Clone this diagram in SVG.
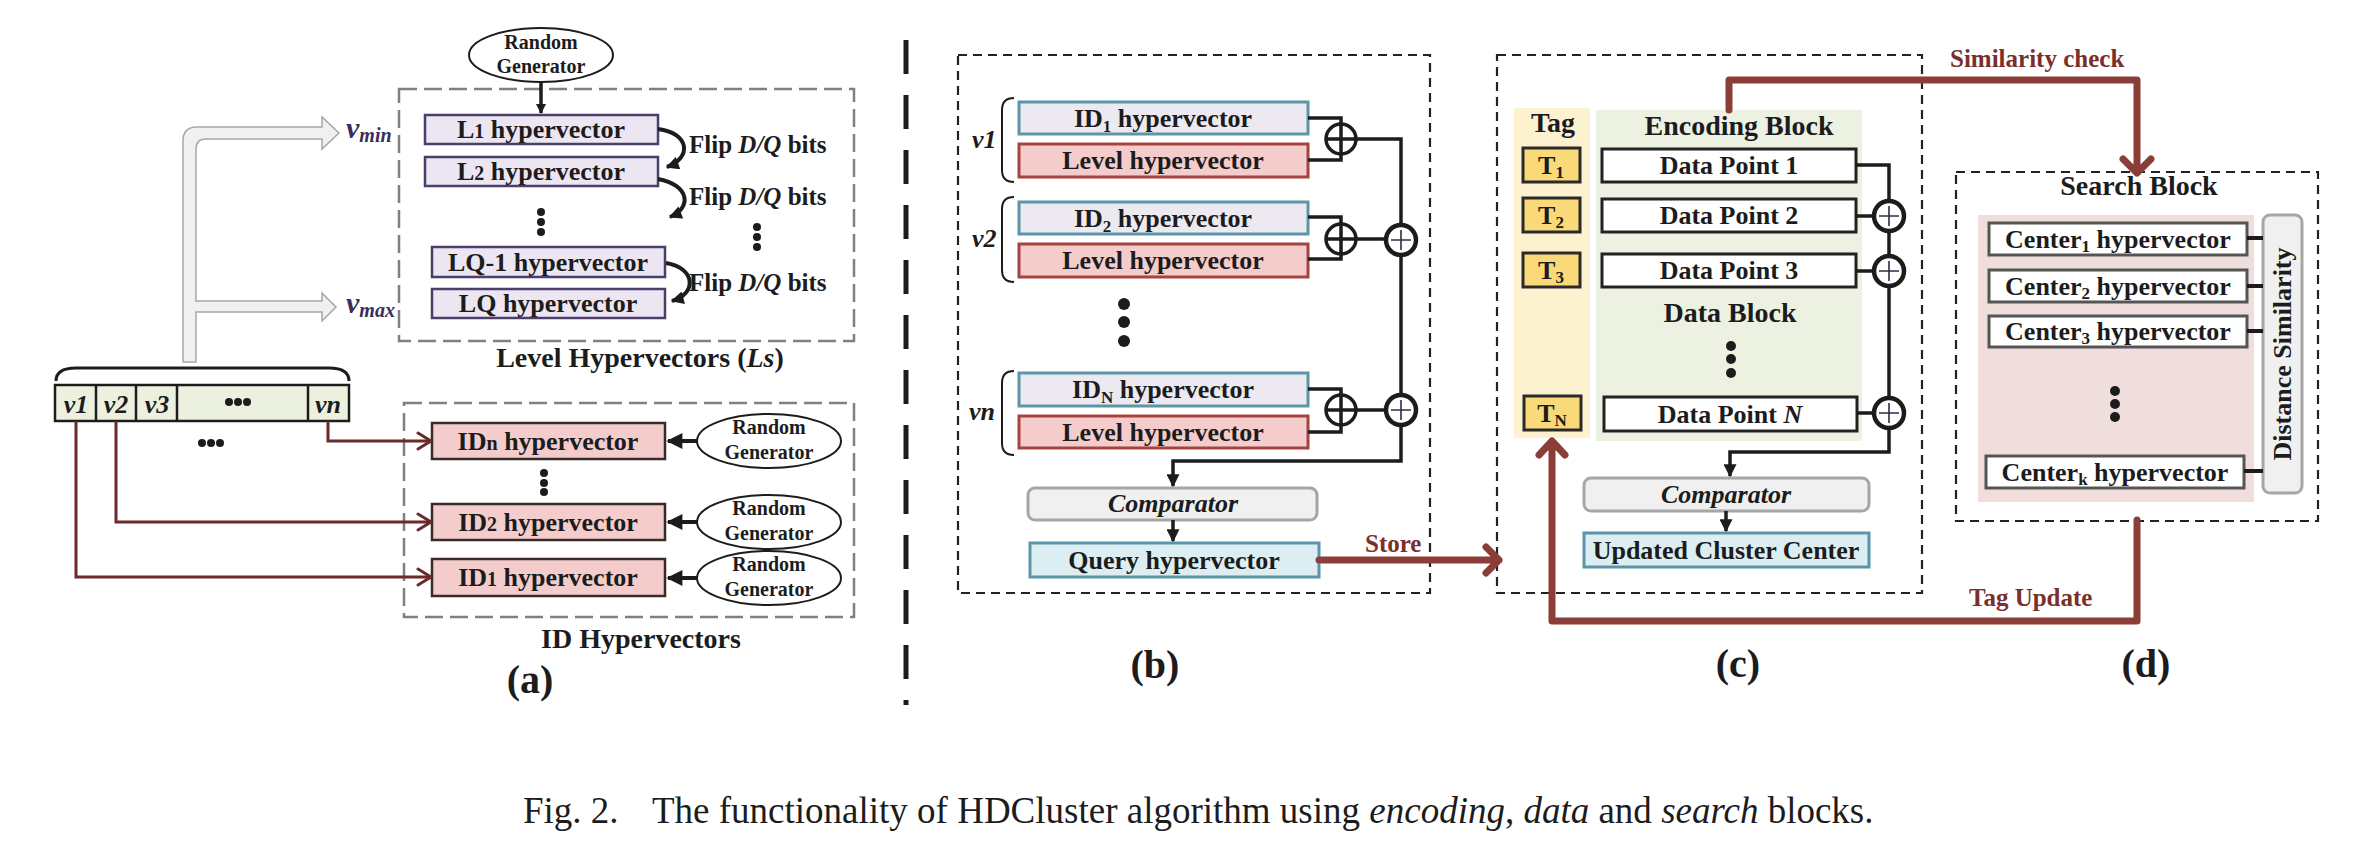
<svg xmlns="http://www.w3.org/2000/svg" width="2370" height="858" viewBox="0 0 2370 858">
<defs>
<style>
.t{font-family:"Liberation Serif","Times New Roman",serif;font-weight:bold;fill:#1c1c1c}
.m{text-anchor:middle}
.s25{font-size:25px}.s26{font-size:26px}.s28{font-size:28px}.s20{font-size:20px}.s40{font-size:40px}
.red{fill:#7B2F2B}
.it{font-style:italic}
.dashA{fill:none;stroke:#808080;stroke-width:2.5;stroke-dasharray:18 7}
.dashB{fill:none;stroke:#222;stroke-width:2.2;stroke-dasharray:9 6}
.lbox{fill:#ECE6F2;stroke:#4A3F6B;stroke-width:2.5}
.idbox{fill:#F4CCCC;stroke:#3a2a2a;stroke-width:2.5}
.bid{fill:#EDE9F0;stroke:#5A95AA;stroke-width:3}
.blev{fill:#F4CCCC;stroke:#A5443E;stroke-width:3}
.blue{fill:#DDEEF2;stroke:#5A95AA;stroke-width:3}
.cmp{fill:#F0F0F0;stroke:#A6A6A6;stroke-width:3}
.tagb{fill:#F9D978;stroke:#2a2a2a;stroke-width:3}
.dp{fill:#fff;stroke:#222;stroke-width:3}
.cb{fill:#fff;stroke:#555;stroke-width:3}
.ln{fill:none;stroke:#1c1c1c;stroke-width:3.5}
.rl{fill:none;stroke:#6B2B2B;stroke-width:3}
.big{fill:none;stroke:#8B3E37;stroke-width:7;stroke-linecap:round;stroke-linejoin:round}
.xor{fill:none;stroke:#1c1c1c;stroke-width:3.5}
.sum{fill:#fff;stroke:#1c1c1c;stroke-width:4.5}
.pl{fill:none;stroke:#2b2f45;stroke-width:1.6}
.dot{fill:#1c1c1c}
.ell{fill:#fff;stroke:#1c1c1c;stroke-width:2}
.vlab{font-family:"Liberation Serif","Times New Roman",serif;font-weight:bold;font-style:italic;fill:#3A2D5C}
</style>
<marker id="ah" viewBox="0 0 10 10" refX="9" refY="5" markerWidth="14" markerHeight="13" markerUnits="userSpaceOnUse" orient="auto"><path d="M0,0 L10,5 L0,10 z" fill="#1c1c1c"/></marker>
<marker id="ahs" viewBox="0 0 10 10" refX="9" refY="5" markerWidth="11" markerHeight="10" markerUnits="userSpaceOnUse" orient="auto"><path d="M0,0 L10,5 L0,10 z" fill="#1c1c1c"/></marker>
<marker id="ahb" viewBox="0 0 10 10" refX="9" refY="5" markerWidth="17" markerHeight="16" markerUnits="userSpaceOnUse" orient="auto"><path d="M0,0 L10,5 L0,10 z" fill="#1c1c1c"/></marker>
</defs>
<rect width="2370" height="858" fill="#fff"/>

<!-- separator -->
<line x1="906" y1="40" x2="906" y2="705" stroke="#1c1c1c" stroke-width="5" stroke-dasharray="34 21"/>

<!-- ===== (a) ===== -->
<g id="a-level-group">
<rect class="dashA" x="399" y="89" width="455" height="252"/>
<text class="t s28 m" x="640" y="367">Level Hypervectors (<tspan class="it">Ls</tspan>)</text>
</g>
<g id="a-rg-top">
<ellipse class="ell" cx="541" cy="55" rx="72" ry="27"/>
<text class="t s20 m" x="541" y="49">Random</text>
<text class="t s20 m" x="541" y="73">Generator</text>
</g>
<g id="a-L1"><rect class="lbox" x="425" y="115" width="233" height="29"/><text class="t s26 m" x="541" y="138">L<tspan font-size="20">1</tspan> hypervector</text></g>
<g id="a-L2"><rect class="lbox" x="425" y="157" width="233" height="29"/><text class="t s26 m" x="541" y="180">L<tspan font-size="20">2</tspan> hypervector</text></g>
<g id="a-LQ1"><rect class="lbox" x="432" y="247" width="233" height="30"/><text class="t s26 m" x="548" y="271">LQ-1 hypervector</text></g>
<g id="a-LQ"><rect class="lbox" x="432" y="289" width="233" height="29"/><text class="t s26 m" x="548" y="312">LQ hypervector</text></g>
<g id="a-flip">
<text class="t s25" x="689" y="153">Flip <tspan class="it">D/Q</tspan> bits</text>
<text class="t s25" x="689" y="205">Flip <tspan class="it">D/Q</tspan> bits</text>
<text class="t s25" x="689" y="291">Flip <tspan class="it">D/Q</tspan> bits</text>
<circle class="dot" cx="541" cy="212" r="4"/><circle class="dot" cx="541" cy="222" r="4"/><circle class="dot" cx="541" cy="232" r="4"/>
<circle class="dot" cx="757" cy="227" r="4"/><circle class="dot" cx="757" cy="237" r="4"/><circle class="dot" cx="757" cy="247" r="4"/>
</g>
<g id="a-gray-arrow">
<path d="M183,362 L183,141 Q183,127 197,127 L322,127 L322,117 L339,133 L322,149 L322,139 L206,139 Q196,139 196,149 L196,301 L322,301 L322,293 L336,307 L322,321 L322,312 L196,312 L196,362 Z" fill="#F0F0F0" stroke="#A6A6A6" stroke-width="1.5"/>
<text class="vlab" x="346" y="138" font-size="30">v<tspan font-size="20" dy="4">min</tspan></text>
<text class="vlab" x="346" y="313" font-size="30">v<tspan font-size="20" dy="4">max</tspan></text>
</g>
<g id="a-vector">
<path d="M56,381 Q56,368 76,368 L329,368 Q349,368 349,381" fill="none" stroke="#1c1c1c" stroke-width="3"/>
<rect x="55" y="385" width="294" height="36" fill="#EBF0DF" stroke="#1c1c1c" stroke-width="2.5"/>
<path d="M96,385 V421 M136,385 V421 M177,385 V421 M308,385 V421" stroke="#1c1c1c" stroke-width="2.5"/>
<text class="t it s26 m" x="76" y="413">v1</text>
<text class="t it s26 m" x="116" y="413">v2</text>
<text class="t it s26 m" x="157" y="413">v3</text>
<text class="t it s26 m" x="328" y="413">vn</text>
<circle class="dot" cx="229" cy="402" r="4"/><circle class="dot" cx="238" cy="402" r="4"/><circle class="dot" cx="247" cy="402" r="4"/>
<circle class="dot" cx="202" cy="443" r="4"/><circle class="dot" cx="211" cy="443" r="4"/><circle class="dot" cx="220" cy="443" r="4"/>
</g>
<g id="a-id-group">
<rect class="dashA" x="404" y="403" width="450" height="214"/>
<text class="t s28 m" x="641" y="648">ID Hypervectors</text>
<circle class="dot" cx="544" cy="473" r="4"/><circle class="dot" cx="544" cy="483" r="4"/><circle class="dot" cx="544" cy="492" r="4"/>
</g>
<g id="a-IDn"><rect class="idbox" x="432" y="423" width="233" height="36"/><text class="t s26 m" x="548" y="450">ID<tspan font-size="20">n</tspan> hypervector</text></g>
<g id="a-ID2"><rect class="idbox" x="432" y="504" width="233" height="36"/><text class="t s26 m" x="548" y="531">ID<tspan font-size="20">2</tspan> hypervector</text></g>
<g id="a-ID1"><rect class="idbox" x="432" y="559" width="233" height="37"/><text class="t s26 m" x="548" y="586">ID<tspan font-size="20">1</tspan> hypervector</text></g>
<g id="a-rg1"><ellipse class="ell" cx="769" cy="441" rx="72" ry="27"/><text class="t s20 m" x="769" y="434">Random</text><text class="t s20 m" x="769" y="459">Generator</text></g>
<g id="a-rg2"><ellipse class="ell" cx="769" cy="522" rx="72" ry="27"/><text class="t s20 m" x="769" y="515">Random</text><text class="t s20 m" x="769" y="540">Generator</text></g>
<g id="a-rg3"><ellipse class="ell" cx="769" cy="578" rx="72" ry="27"/><text class="t s20 m" x="769" y="571">Random</text><text class="t s20 m" x="769" y="596">Generator</text></g>
<text class="t s40 m" x="530" y="693">(a)</text>

<!-- ===== (b) ===== -->
<g id="b-box"><rect class="dashB" x="958" y="55" width="472" height="538"/></g>
<g id="b-v1">
<path d="M1014,98 Q1002,98 1002,110 L1002,170 Q1002,182 1014,182" fill="none" stroke="#1c1c1c" stroke-width="2"/>
<text class="t it s26" x="972" y="148">v1</text>
<rect class="bid" x="1019" y="102" width="289" height="32"/><text class="t s26 m" x="1163" y="127">ID<tspan font-size="17" dy="5">1</tspan><tspan dy="-5"> hypervector</tspan></text>
<rect class="blev" x="1019" y="144" width="289" height="33"/><text class="t s26 m" x="1163" y="169">Level hypervector</text>
</g>
<g id="b-v2">
<path d="M1014,197 Q1002,197 1002,209 L1002,270 Q1002,282 1014,282" fill="none" stroke="#1c1c1c" stroke-width="2"/>
<text class="t it s26" x="972" y="247">v2</text>
<rect class="bid" x="1019" y="202" width="289" height="32"/><text class="t s26 m" x="1163" y="227">ID<tspan font-size="17" dy="5">2</tspan><tspan dy="-5"> hypervector</tspan></text>
<rect class="blev" x="1019" y="244" width="289" height="33"/><text class="t s26 m" x="1163" y="269">Level hypervector</text>
</g>
<g id="b-dots"><circle class="dot" cx="1124" cy="304" r="6"/><circle class="dot" cx="1124" cy="322" r="6"/><circle class="dot" cx="1124" cy="341" r="6"/></g>
<g id="b-vn">
<path d="M1014,371 Q1002,371 1002,383 L1002,443 Q1002,455 1014,455" fill="none" stroke="#1c1c1c" stroke-width="2"/>
<text class="t it s26" x="969" y="420">vn</text>
<rect class="bid" x="1019" y="373" width="289" height="33"/><text class="t s26 m" x="1163" y="398">ID<tspan font-size="17" dy="5">N</tspan><tspan dy="-5"> hypervector</tspan></text>
<rect class="blev" x="1019" y="416" width="289" height="32"/><text class="t s26 m" x="1163" y="441">Level hypervector</text>
</g>
<g id="b-comparator"><rect class="cmp" x="1028" y="488" width="289" height="32" rx="7"/><text class="t it s26 m" x="1173" y="512">Comparator</text></g>
<g id="b-query"><rect class="blue" x="1030" y="543" width="289" height="34"/><text class="t s26 m" x="1174" y="569">Query hypervector</text></g>
<text class="t s40 m" x="1155" y="678">(b)</text>

<!-- ===== (c) ===== -->
<g id="c-box"><rect class="dashB" x="1497" y="55" width="425" height="538"/></g>
<g id="c-tagcol">
<rect x="1514" y="108" width="76" height="330" fill="#FDF2D0"/>
<text class="t s28 m" x="1553" y="132">Tag</text>
<rect class="tagb" x="1523" y="148" width="57" height="34"/><text class="t s26 m" x="1551" y="174">T<tspan font-size="17" dy="4">1</tspan></text>
<rect class="tagb" x="1523" y="198" width="57" height="34"/><text class="t s26 m" x="1551" y="224">T<tspan font-size="17" dy="4">2</tspan></text>
<rect class="tagb" x="1523" y="253" width="57" height="34"/><text class="t s26 m" x="1551" y="279">T<tspan font-size="17" dy="4">3</tspan></text>
<rect class="tagb" x="1524" y="396" width="57" height="34"/><text class="t s26 m" x="1552" y="422">T<tspan font-size="17" dy="4">N</tspan></text>
</g>
<g id="c-datablock">
<rect x="1596" y="110" width="266" height="331" fill="#ECF1E2"/>
<text class="t s28 m" x="1739" y="135">Encoding Block</text>
<rect class="dp" x="1602" y="149" width="254" height="33"/><text class="t s26 m" x="1729" y="174">Data Point 1</text>
<rect class="dp" x="1602" y="199" width="254" height="33"/><text class="t s26 m" x="1729" y="224">Data Point 2</text>
<rect class="dp" x="1602" y="254" width="254" height="33"/><text class="t s26 m" x="1729" y="279">Data Point 3</text>
<text class="t s28 m" x="1730" y="322">Data Block</text>
<circle class="dot" cx="1731" cy="346" r="5"/><circle class="dot" cx="1731" cy="359" r="5"/><circle class="dot" cx="1731" cy="373" r="5"/>
<rect class="dp" x="1604" y="397" width="253" height="34"/><text class="t s26 m" x="1730" y="423">Data Point <tspan class="it">N</tspan></text>
</g>
<g id="c-comparator"><rect class="cmp" x="1584" y="478" width="285" height="33" rx="7"/><text class="t it s26 m" x="1726" y="503">Comparator</text></g>
<g id="c-updated"><rect class="blue" x="1584" y="533" width="285" height="34"/><text class="t s26 m" x="1726" y="559">Updated Cluster Center</text></g>
<text class="t s40 m" x="1738" y="677">(c)</text>

<!-- ===== (d) ===== -->
<g id="d-box">
<rect class="dashB" x="1956" y="172" width="362" height="349"/>
<text class="t s28 m" x="2139" y="195">Search Block</text>
<rect x="1978" y="215" width="276" height="287" fill="#F0DEDC"/>
</g>
<g id="d-c1"><rect class="cb" x="1989" y="223" width="258" height="32"/><text class="t s26 m" x="2118" y="248">Center<tspan font-size="17" dy="4">1</tspan><tspan dy="-4"> hypervector</tspan></text></g>
<g id="d-c2"><rect class="cb" x="1989" y="270" width="258" height="32"/><text class="t s26 m" x="2118" y="295">Center<tspan font-size="17" dy="4">2</tspan><tspan dy="-4"> hypervector</tspan></text></g>
<g id="d-c3"><rect class="cb" x="1989" y="316" width="258" height="31"/><text class="t s26 m" x="2118" y="340">Center<tspan font-size="17" dy="4">3</tspan><tspan dy="-4"> hypervector</tspan></text></g>
<g id="d-dots"><circle class="dot" cx="2115" cy="391" r="5"/><circle class="dot" cx="2115" cy="404" r="5"/><circle class="dot" cx="2115" cy="417" r="5"/></g>
<g id="d-ck"><rect class="cb" x="1986" y="456" width="258" height="32"/><text class="t s26 m" x="2115" y="481">Center<tspan font-size="17" dy="4">k</tspan><tspan dy="-4"> hypervector</tspan></text></g>
<g id="d-ds"><rect class="cmp" x="2263" y="215" width="39" height="278" rx="7"/><text class="t s26 m" transform="rotate(-90 2291 354)" x="2291" y="354">Distance Similarity</text></g>
<text class="t s40 m" x="2146" y="677">(d)</text>

<!-- ===== connectors ===== -->
<g id="connectors">
<!-- (a) -->
<path class="ln" d="M541,82 V113" stroke-width="2" marker-end="url(#ahs)"/>
<path d="M658,129 C690,133 692,158 667,167" fill="none" stroke="#1c1c1c" stroke-width="4" marker-end="url(#ah)"/>
<path d="M658,179 C690,185 692,208 670,217" fill="none" stroke="#1c1c1c" stroke-width="4" marker-end="url(#ah)"/>
<path d="M666,263 C696,268 697,294 672,301" fill="none" stroke="#1c1c1c" stroke-width="4" marker-end="url(#ah)"/>
<path class="rl" d="M328,421 V441 H430"/>
<path class="rl" d="M116,421 V522 H430"/>
<path class="rl" d="M76,421 V577 H430"/>
<path class="rl" d="M418,433 L431,441 L418,449 M418,514 L431,522 L418,530 M418,569 L431,577 L418,585" stroke-linecap="round"/>
<path d="M697,441 H668" stroke="#1c1c1c" stroke-width="4" marker-end="url(#ahb)"/>
<path d="M697,522 H668" stroke="#1c1c1c" stroke-width="4" marker-end="url(#ahb)"/>
<path d="M697,578 H668" stroke="#1c1c1c" stroke-width="4" marker-end="url(#ahb)"/>
<!-- (b) -->
<path class="ln" d="M1308,118 H1341 V160 H1308"/>
<circle class="xor" cx="1341" cy="139" r="15"/>
<path class="ln" d="M1326,139 H1401 V225"/>
<path class="ln" d="M1308,217 H1341 V259 H1308"/>
<circle class="xor" cx="1341" cy="239" r="15"/>
<path class="ln" d="M1326,239 H1386"/>
<path class="ln" d="M1308,389 H1341 V432 H1308"/>
<circle class="xor" cx="1341" cy="410" r="15"/>
<path class="ln" d="M1326,410 H1386"/>
<path class="ln" d="M1401,255 V395"/>
<circle class="sum" cx="1401" cy="240" r="15"/>
<path class="pl" d="M1391,240 H1411 M1401,230 V250"/>
<circle class="sum" cx="1401" cy="410" r="15"/>
<path class="pl" d="M1391,410 H1411 M1401,400 V420"/>
<path class="ln" d="M1401,425 V461 H1173 V486" marker-end="url(#ah)"/>
<path class="ln" d="M1173,520 V541" marker-end="url(#ah)"/>
<!-- (c) -->
<path class="ln" d="M1856,165 H1889 V201"/>
<path class="ln" d="M1856,216 H1874 M1856,271 H1874 M1857,413 H1874 M1889,231 V256 M1889,286 V398"/>
<circle class="sum" cx="1889" cy="216" r="15"/><path class="pl" d="M1879,216 H1899 M1889,206 V226"/>
<circle class="sum" cx="1889" cy="271" r="15"/><path class="pl" d="M1879,271 H1899 M1889,261 V281"/>
<circle class="sum" cx="1889" cy="413" r="15"/><path class="pl" d="M1879,413 H1899 M1889,403 V423"/>
<path class="ln" d="M1889,428 V452 H1730 V476" marker-end="url(#ah)"/>
<path class="ln" d="M1726,511 V531" marker-end="url(#ah)"/>
<!-- (d) -->
<path d="M2247,238 H2263 M2247,286 H2263 M2247,331 H2263 M2244,471 H2263" stroke="#1c1c1c" stroke-width="4"/>
<!-- big red -->
<path class="big" d="M1319,560 H1499 M1486,547 L1499,560 L1486,573"/>
<text class="t s25 red" x="1365" y="552">Store</text>
<path class="big" d="M1729,110 V80 H2137 V171 M2123,159 L2137,173 L2151,159"/>
<text class="t s25 red" x="1950" y="67">Similarity check</text>
<path class="big" d="M2137,520 V621 H1552 V442 M1539,455 L1552,441 L1565,455"/>
<text class="t s25 red" x="1969" y="606">Tag Update</text>
</g>

<text y="823" font-family="Liberation Serif, Times New Roman, serif" font-size="37" fill="#1c1c1c"><tspan x="523">Fig. 2.</tspan><tspan x="652">The functionality of HDCluster algorithm using </tspan><tspan font-style="italic">encoding</tspan>, <tspan font-style="italic">data</tspan> and <tspan font-style="italic">search</tspan> blocks.</text>
</svg>
